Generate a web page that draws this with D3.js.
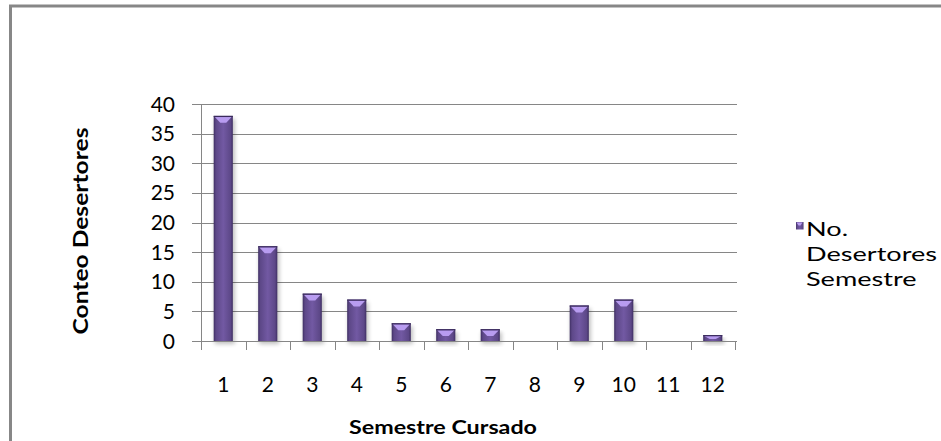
<!DOCTYPE html>
<html><head><meta charset="utf-8">
<script src="https://cdn.jsdelivr.net/npm/d3@7"></script>
<style>body{margin:0;background:#fff}svg{display:block}text{font-family:Lato,"Open Sans",sans-serif}</style>
</head><body>
<svg id="c" width="941" height="441"></svg>
<script>
const categories = ["1","2","3","4","5","6","7","8","9","10","11","12"];
const values = [38,16,8,7,3,2,2,0,6,7,0,1];
const yTicks = [0,5,10,15,20,25,30,35,40];
const seriesName = ["No.","Desertores","Semestre"];
const xTitle = "Semestre Cursado";
const yTitle = "Conteo Desertores";

const svg = d3.select("#c");
svg.append("rect").attr("x",10.5).attr("y",6).attr("width",940).attr("height",440)
  .attr("fill","none").attr("stroke","#878787").attr("stroke-width",3);

const x = d3.scaleBand().domain(categories).range([201,735]).paddingInner(0.57).paddingOuter(0.285);
const xTick = d3.scaleBand().domain(categories).range([201,735]);
const y = d3.scaleLinear().domain([0,40]).range([341,104]);

const defs = svg.append("defs");
const g = defs.append("linearGradient").attr("id","bg").attr("x1","0").attr("x2","1").attr("y1","0").attr("y2","0");
[[0,"#3f2f63"],[0.12,"#5d4888"],[0.5,"#7259a3"],[0.88,"#5d4888"],[1,"#3f2f63"]].forEach(([o,c])=>
  g.append("stop").attr("offset",o).attr("stop-color",c));
const sh = defs.append("filter").attr("id","sh").attr("x","-30%").attr("y","-10%").attr("width","160%").attr("height","130%");
sh.append("feGaussianBlur").attr("stdDeviation",2);

// gridlines
svg.append("g").selectAll("line").data(yTicks.filter(d=>d>0)).join("line")
  .attr("x1",201).attr("x2",737).attr("y1",d=>Math.round(y(d))+0.5).attr("y2",d=>Math.round(y(d))+0.5)
  .attr("stroke","#868686").attr("stroke-width",1);
// y axis line + ticks
svg.append("line").attr("x1",201.5).attr("x2",201.5).attr("y1",y(40)).attr("y2",y(0)+1).attr("stroke","#868686");
svg.append("g").selectAll("line").data(yTicks).join("line")
  .attr("x1",192).attr("x2",201).attr("y1",d=>Math.round(y(d))+0.5).attr("y2",d=>Math.round(y(d))+0.5)
  .attr("stroke","#868686");

// y labels
svg.append("g").selectAll("text").data(yTicks).join("text")
  .attr("x",175).attr("y",d=>y(d)+7.5).attr("text-anchor","end")
  .attr("font-size",21).attr("fill","#000").text(d=>d);

const data = values.map((v,i)=>({v,c:categories[i]})).filter(d=>d.v>0);
const bars = svg.append("g");
bars.selectAll("rect.s").data(data).join("rect")
  .attr("class","s").attr("x",d=>x(d.c)+1).attr("y",d=>y(d.v)+3).attr("width",x.bandwidth()+1)
  .attr("height",d=>y(0)-y(d.v)).attr("fill","#000").attr("opacity",0.25).attr("filter","url(#sh)");
bars.selectAll("rect.b").data(data).join("rect")
  .attr("class","b").attr("x",d=>x(d.c)).attr("y",d=>y(d.v)).attr("width",x.bandwidth())
  .attr("height",d=>y(0)-y(d.v)).attr("fill","url(#bg)");
bars.selectAll("path.t").data(data).join("path")
  .attr("class","t").attr("d",d=>{
    const x0=x(d.c), w=x.bandwidth(), t=y(d.v);
    const h=Math.min(6,(y(0)-t)/2);
    return `M${x0+1},${t+1}L${x0+w-1},${t+1}L${x0+w/2+3},${t+1+h}L${x0+w/2-3},${t+1+h}Z`;
  }).attr("fill","#b89cf0");
bars.selectAll("rect.tl").data(data).join("rect")
  .attr("class","tl").attr("x",d=>x(d.c)).attr("y",d=>y(d.v)).attr("width",x.bandwidth()).attr("height",1.2)
  .attr("fill","#3a2b5c");

// x axis line + ticks
svg.append("line").attr("x1",192).attr("x2",737).attr("y1",341.5).attr("y2",341.5).attr("stroke","#868686");
svg.append("g").selectAll("line").data(categories.concat(["end"])).join("line")
  .attr("x1",d=>Math.round(d==="end"?735:xTick(d))+0.5).attr("x2",d=>Math.round(d==="end"?735:xTick(d))+0.5)
  .attr("y1",341).attr("y2",350).attr("stroke","#868686");

// x labels
svg.append("g").selectAll("text").data(categories).join("text")
  .attr("x",d=>xTick(d)+xTick.bandwidth()/2).attr("y",392).attr("text-anchor","middle")
  .attr("font-size",21).attr("fill","#000").text(d=>d);

// axis titles
svg.append("text").attr("x",349).attr("y",434)
  .attr("font-size",18).attr("font-weight","bold").attr("textLength",188).attr("lengthAdjust","spacingAndGlyphs").text(xTitle);
svg.append("text").attr("transform","translate(88,231) rotate(-90)").attr("text-anchor","middle")
  .attr("font-size",20).attr("font-weight","bold").attr("textLength",207).attr("lengthAdjust","spacingAndGlyphs").text(yTitle);

// legend
const lg = svg.append("g");
lg.append("rect").attr("x",796).attr("y",222).attr("width",7.5).attr("height",7.5).attr("fill","url(#bg)");
lg.append("path").attr("d","M796.5,222.5L802.5,222.5L800.5,225.5L798.5,225.5Z").attr("fill","#b89cf0");
const lt = lg.selectAll("text").data(seriesName).join("text")
  .attr("x",806).attr("y",(d,i)=>236+i*25).attr("font-size",19.5).attr("fill","#000").text(d=>d);
const ref = lt.filter(d=>d==="Desertores").node().getComputedTextLength();
const sx = 131/ref;
lt.each(function(){ const L=this.getComputedTextLength(); d3.select(this).attr("textLength",L*sx).attr("lengthAdjust","spacingAndGlyphs"); });
</script>
</body></html>
